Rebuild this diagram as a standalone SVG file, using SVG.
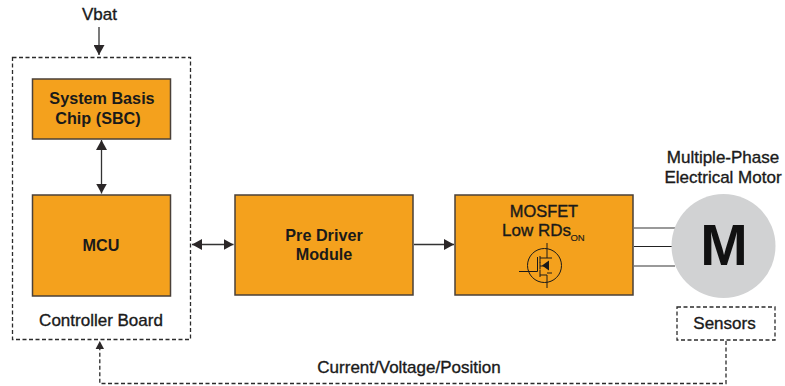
<svg xmlns="http://www.w3.org/2000/svg" width="785" height="386" viewBox="0 0 785 386">
<style>
text{font-family:"Liberation Sans",Arial,sans-serif;fill:#1a1a1a;text-anchor:middle;font-size:17px;stroke:#1a1a1a;stroke-width:.35}
.b{font-weight:bold;font-size:16.2px;stroke:none}
.box{fill:#f4a11d;stroke:#4a4038;stroke-width:1.5}
.dash{fill:none;stroke:#2b2b2b;stroke-width:1.3;stroke-dasharray:4 2.5}
.line{fill:none;stroke:#333;stroke-width:1.3}
.ah{fill:#2b2728;stroke:none}
.sym{fill:none;stroke:#1a1a1a;stroke-width:1}
</style>
<defs>
<marker id="a" markerUnits="userSpaceOnUse" markerWidth="11" markerHeight="11" refX="10" refY="5.500" orient="auto-start-reverse"><path class="ah" d="M0,0L10,5.500L0,11z"/></marker>
</defs>
<g id="connectors">
<path class="line" d="M99,27V55" marker-end="url(#a)"/>
<path class="line" d="M101.500,140V193.500" marker-start="url(#a)" marker-end="url(#a)"/>
<path class="line" d="M192,244.500H233.500" marker-start="url(#a)" marker-end="url(#a)"/>
<path class="line" d="M414,244.500H454" marker-end="url(#a)"/>
<path class="line" d="M634,228H675" style="stroke:#777;stroke-width:1.5"/>
<path class="line" d="M634,246.500H672" style="stroke:#222;stroke-width:1.2"/>
<path class="line" d="M634,266H675" style="stroke:#777;stroke-width:1.5"/>
<path class="dash" d="M726,341V383.500H99.800V348"/>
<path class="ah" d="M99.800,341L104,349H95.600z"/>
</g>
<g id="controller-board">
<rect class="dash" x="12.500" y="57.500" width="178" height="282"/>
<text x="101" y="326">Controller Board</text>
</g>
<g id="vbat"><text x="99.500" y="20">Vbat</text></g>
<g id="sbc">
<rect class="box" x="32.500" y="79" width="138" height="60"/>
<text class="b" x="102" y="104">System Basis</text>
<text class="b" x="98" y="124">Chip (SBC)</text>
</g>
<g id="mcu">
<rect class="box" x="32.500" y="195" width="138" height="101"/>
<text class="b" x="101" y="251">MCU</text>
</g>
<g id="pre-driver">
<rect class="box" x="235" y="195" width="178" height="100"/>
<text class="b" x="324" y="241">Pre Driver</text>
<text class="b" x="324" y="260">Module</text>
</g>
<g id="mosfet">
<rect class="box" x="455" y="195" width="178" height="100"/>
<text x="544" y="217" style="font-size:16.400px;stroke-width:.4">MOSFET</text>
<text x="536.500" y="236">Low RDs</text>
<text x="577.500" y="241" style="font-size:9.500px;stroke-width:.15">ON</text>
<circle class="sym" cx="544.500" cy="265.500" r="17"/>
<path class="sym" d="M519,271.500H537.500V257M540,256V263M540,262.500V269.500M540,270V277M540,258H547V243M540,275H547V288M540,266H548M547,258H552M547,273H552"/>
<path d="M542,265.500L549,260.500V270.500z" fill="#1a1a1a"/>
</g>
<g id="motor">
<text x="723" y="163">Multiple-Phase</text>
<text x="723" y="183">Electrical Motor</text>
<circle cx="723.500" cy="246" r="52" fill="#d1d2d3"/>
<text x="724" y="265" class="b" style="font-size:57px;fill:#111">M</text>
</g>
<g id="sensors">
<rect class="dash" x="677" y="307" width="98" height="33"/>
<text x="724.500" y="329">Sensors</text>
</g>
<g id="feedback-label"><text x="409" y="373">Current/Voltage/Position</text></g>
</svg>
